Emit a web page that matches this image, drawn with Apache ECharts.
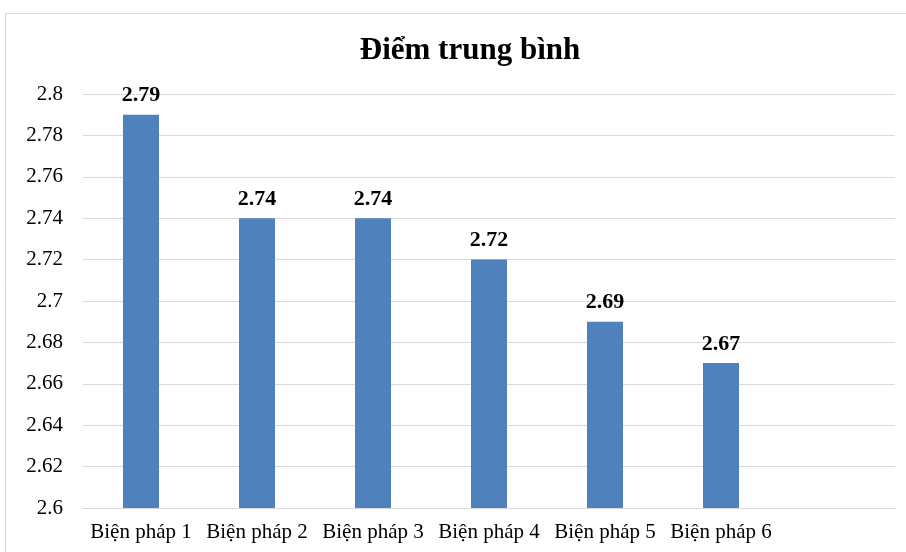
<!DOCTYPE html>
<html><head><meta charset="utf-8">
<script src="https://cdn.jsdelivr.net/npm/echarts@6/dist/echarts.min.js"></script>
<style>html,body{margin:0;padding:0;background:#fff}#c{width:906px;height:552px}</style>
</head><body><div id="c"></div>
<script>
const categories = ['Biện pháp 1','Biện pháp 2','Biện pháp 3','Biện pháp 4','Biện pháp 5','Biện pháp 6',''];
const values = [2.79, 2.74, 2.74, 2.72, 2.69, 2.67];
const yMin = 2.6, yMax = 2.8, yStep = 0.02;
const titleText = 'Điểm trung bình';
const F = '"Liberation Serif","Times New Roman",serif';
const chart = echarts.init(document.getElementById('c'), null, {renderer:'canvas'});
chart.setOption({
  animation:false,
  backgroundColor:'#fff',
  graphic:[{type:'rect',shape:{x:5.5,y:13.5,width:920,height:560},style:{fill:'none',stroke:'#d9d9d9',lineWidth:1}}],
  title:{text:titleText,left:465,top:30,textAlign:'center',textStyle:{fontFamily:F,fontWeight:'bold',fontSize:31,color:'#000'}},
  grid:{left:83,right:11,top:94,bottom:44,containLabel:false},
  xAxis:{type:'category',data:categories,
    axisLine:{show:true,lineStyle:{color:'#d9d9d9'}},axisTick:{show:false},
    axisLabel:{interval:0,fontFamily:F,fontSize:21,color:'#000',margin:14}},
  yAxis:{type:'value',min:yMin,max:yMax,interval:yStep,
    axisLine:{show:false},axisTick:{show:false},
    splitLine:{lineStyle:{color:'#d9d9d9'}},
    axisLabel:{fontFamily:F,fontSize:21,color:'#000',margin:20,
      formatter:v=>String(parseFloat(v.toFixed(2)))}},
  series:[{type:'bar',data:values,barWidth:36,
    itemStyle:{color:'#4f81bd'},
    label:{show:true,position:'top',distance:8,fontFamily:F,fontSize:22,fontWeight:'bold',color:'#000',
      formatter:p=>p.value.toFixed(2)}}]
});
</script></body></html>
